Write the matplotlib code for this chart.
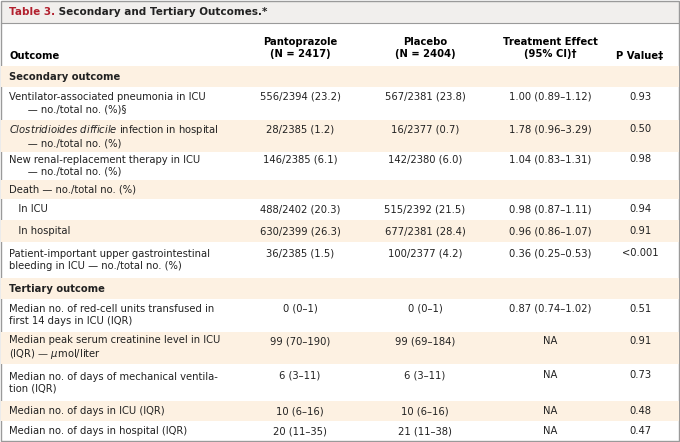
import matplotlib
matplotlib.use("Agg")
import matplotlib.pyplot as plt
from matplotlib.patches import Rectangle

W, H = 680, 442
outcomes = [
    "Secondary outcome",
    "Ventilator-associated pneumonia in ICU\n      — no./total no. (%)§",
    "$\\it{Clostridioides\\ difficile}$ infection in hospital\n      — no./total no. (%)",
    "New renal-replacement therapy in ICU\n      — no./total no. (%)",
    "Death — no./total no. (%)",
    "   In ICU",
    "   In hospital",
    "Patient-important upper gastrointestinal\nbleeding in ICU — no./total no. (%)",
    "Tertiary outcome",
    "Median no. of red-cell units transfused in\nfirst 14 days in ICU (IQR)",
    "Median peak serum creatinine level in ICU\n(IQR) — $\\mu$mol/liter",
    "Median no. of days of mechanical ventila-\ntion (IQR)",
    "Median no. of days in ICU (IQR)",
    "Median no. of days in hospital (IQR)",
]
panto = ["", "556/2394 (23.2)", "28/2385 (1.2)", "146/2385 (6.1)", "", "488/2402 (20.3)",
         "630/2399 (26.3)", "36/2385 (1.5)", "", "0 (0–1)", "99 (70–190)", "6 (3–11)", "10 (6–16)", "20 (11–35)"]
placebo = ["", "567/2381 (23.8)", "16/2377 (0.7)", "142/2380 (6.0)", "", "515/2392 (21.5)",
           "677/2381 (28.4)", "100/2377 (4.2)", "", "0 (0–1)", "99 (69–184)", "6 (3–11)", "10 (6–16)", "21 (11–38)"]
effect = ["", "1.00 (0.89–1.12)", "1.78 (0.96–3.29)", "1.04 (0.83–1.31)", "", "0.98 (0.87–1.11)",
          "0.96 (0.86–1.07)", "0.36 (0.25–0.53)", "", "0.87 (0.74–1.02)", "NA", "NA", "NA", "NA"]
pval = ["", "0.93", "0.50", "0.98", "", "0.94", "0.91", "<0.001", "", "0.51", "0.91", "0.73", "0.48", "0.47"]
bold_rows = {0, 8}
bounds = [66, 87, 120, 152, 180, 199, 220, 242, 278, 299, 332, 364, 401, 421, 441]
shaded = [True, False, True, False, True, False, True, False, True, False, True, False, True, False]

fig = plt.figure(figsize=(6.8, 4.42), dpi=100)
ax = fig.add_axes([0, 0, 1, 1])
ax.set_xlim(0, W); ax.set_ylim(H, 0); ax.axis("off")
plt.rcParams['font.family'] = ['DejaVu Sans']
fs = 7.2
ax.add_patch(Rectangle((1, 1), W - 2, 22, facecolor="#f1efed", edgecolor="none"))
ax.add_patch(Rectangle((1, 1), W - 2, H - 2, facecolor="none", edgecolor="#9a9a9a", lw=1))
ax.plot([1, W - 1], [23, 23], color="#9a9a9a", lw=0.8)
t = ax.text(9, 12, "Table 3.", color="#b2202e", fontsize=7.5, fontweight="bold", va="center")
ax.annotate(" Secondary and Tertiary Outcomes.*", xycoords=t, xy=(1, 0.5), va="center",
            color="#222", fontsize=7.5, fontweight="bold")

cx = [300, 425, 550, 640]
ax.text(9, 56, "Outcome", fontsize=fs, fontweight="bold", va="center")
heads = ["Pantoprazole\n(N = 2417)", "Placebo\n(N = 2404)", "Treatment Effect\n(95% CI)†", "P Value‡"]
for x, h in zip(cx, heads):
    ax.text(x, 56 if "P V" in h else 48, h, fontsize=fs, fontweight="bold", ha="center", va="center", linespacing=1.2)

for i in range(len(outcomes)):
    y0, y1 = bounds[i], bounds[i + 1]
    if shaded[i]:
        ax.add_patch(Rectangle((1, y0), W - 2, y1 - y0, facecolor="#fdf1e2", edgecolor="none"))
    yc = (y0 + y1) / 2
    ax.text(9, yc, outcomes[i], fontsize=fs, va="center", linespacing=1.25,
            fontweight="bold" if i in bold_rows else "normal", color="#222")
    ytop = yc - 7 if "\n" in outcomes[i] else yc
    for x, col in zip(cx, [panto, placebo, effect, pval]):
        ax.text(x, ytop, col[i], fontsize=fs, ha="center", va="center", color="#222")
fig.savefig("out.png", dpi=100)
